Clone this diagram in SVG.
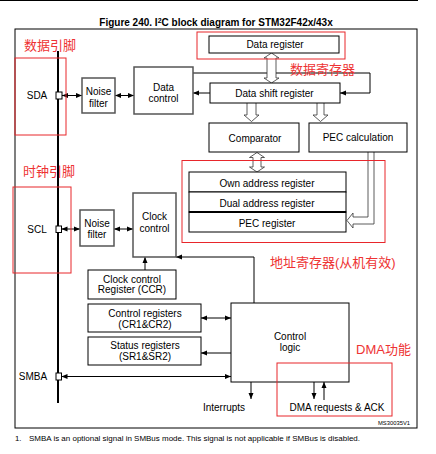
<svg xmlns="http://www.w3.org/2000/svg" width="436" height="454" viewBox="0 0 436 454">
<defs>
<style>
text{font-family:"Liberation Sans",Arial,sans-serif;font-size:10px;fill:#000;text-anchor:middle}
.box{fill:#fff;stroke:#000;stroke-width:1}
.gbox{fill:#fff;stroke:#555;stroke-width:1.5}
.red{fill:none;stroke:#e8262b;stroke-width:1}
.rt{font-family:"Liberation Sans","Noto Sans CJK SC",sans-serif;font-size:13px;fill:#ee3333;text-anchor:start}
.c{fill:none;stroke:#000;stroke-width:1}
.hol{fill:#fff;stroke:#333;stroke-width:0.8}
.sq{fill:#fff;stroke:#000;stroke-width:1}
.fn{font-size:7.8px;text-anchor:start}
.id{font-size:5.8px;text-anchor:start}
</style>
<marker id="ah" viewBox="0 0 6 6" refX="6" refY="3" markerWidth="6" markerHeight="6" markerUnits="userSpaceOnUse" orient="auto-start-reverse"><path d="M0,0.5 L6,3 L0,5.5 z" fill="#000"/></marker>
</defs>
<rect x="0" y="0" width="436" height="454" fill="#fff"/>
<line x1="0" y1="0.5" x2="418" y2="0.5" stroke="#000" stroke-width="1"/>
<text x="216" y="26" font-weight="bold">Figure 240. I<tspan font-size="7" dy="-3.5">2</tspan><tspan dy="3.5">C block diagram for STM32F42x/43x</tspan></text>
<rect x="15" y="29" width="402" height="399" fill="none" stroke="#000" stroke-width="1"/>
<line x1="58" y1="51" x2="58" y2="403" stroke="#000" stroke-width="2"/>

<g id="connectors">
<path class="c" d="M62,95.5 H82" marker-start="url(#ah)" marker-end="url(#ah)"/>
<path class="c" d="M115,95.5 H134" marker-start="url(#ah)" marker-end="url(#ah)"/>
<path class="c" d="M210,93 H193" marker-end="url(#ah)"/>
<path class="c" d="M193,73 H370 V93 H340" marker-end="url(#ah)"/>
<path class="c" d="M61.5,229 H80" marker-start="url(#ah)" marker-end="url(#ah)"/>
<path class="c" d="M114,229 H133" marker-start="url(#ah)" marker-end="url(#ah)"/>
<path class="c" d="M254,303 V257 H176" marker-end="url(#ah)"/>
<path class="c" d="M145,270 V257" marker-end="url(#ah)"/>
<path class="c" d="M201,318 H231" marker-start="url(#ah)" marker-end="url(#ah)"/>
<path class="c" d="M233,353 H201" marker-end="url(#ah)"/>
<path class="c" d="M61.5,376.5 H231" marker-start="url(#ah)" marker-end="url(#ah)"/>
<path class="c" d="M251,382 V399" marker-end="url(#ah)"/>
<path class="c" d="M314,382 V399" marker-end="url(#ah)"/>
<path class="c" d="M324,400 V382" marker-end="url(#ah)"/>
<polygon class="hol" points="271.5,53 279,58 276,58 276,78 279,78 271.5,83 264,78 267,78 267,58 264,58"/>
<path class="hol" d="M247,103 V115 H244 L251.5,121.5 L259,115 H256 V103"/>
<path class="hol" d="M317,103 V115 H313 L320.5,121.5 L328,115 H324 V103"/>
<polygon class="hol" points="257,152.5 264.5,157.5 261,157.5 261,167 264.5,167 257,172 249.5,167 253,167 253,157.5 249.5,157.5"/>
<path class="hol" d="M368,152 V217 H353 V213 L347,220.5 L353,228 V224 H374 V152"/>
</g>

<g id="sda">
<rect class="sq" x="56" y="92" width="6" height="7"/>
<text x="37" y="99">SDA</text>
</g>
<g id="scl">
<rect class="sq" x="56" y="226" width="5.5" height="6.5"/>
<text x="37" y="233">SCL</text>
</g>
<g id="smba">
<rect class="sq" x="56" y="373" width="5.5" height="7"/>
<text x="33" y="380">SMBA</text>
</g>
<g id="noise-filter-1">
<rect class="gbox" x="82" y="78" width="33" height="35"/>
<text x="98.5" y="94.5">Noise</text>
<text x="98.5" y="106.5">filter</text>
</g>
<g id="data-control">
<rect class="gbox" x="134" y="67" width="59" height="47"/>
<text x="163.5" y="90.5">Data</text>
<text x="163.5" y="102">control</text>
</g>
<g id="noise-filter-2">
<rect class="gbox" x="80" y="210" width="34" height="36"/>
<text x="97" y="226.5">Noise</text>
<text x="97" y="237.5">filter</text>
</g>
<g id="clock-control">
<rect class="gbox" x="133" y="193" width="43" height="64"/>
<text x="154.5" y="219.5">Clock</text>
<text x="154.5" y="231.5">control</text>
</g>
<g id="data-register">
<rect class="box" x="209" y="36" width="130" height="17"/>
<text x="275" y="48">Data register</text>
</g>
<g id="data-shift-register">
<rect class="box" x="210" y="83" width="130" height="20"/>
<text x="274.5" y="96.5">Data shift register</text>
</g>
<g id="comparator">
<rect class="box" x="209" y="123" width="90" height="29"/>
<text x="255" y="141.5">Comparator</text>
</g>
<g id="pec-calculation">
<rect class="box" x="309" y="123" width="98" height="29"/>
<text x="358" y="140.5">PEC calculation</text>
</g>
<g id="address-registers">
<rect class="box" x="189" y="172" width="157" height="20"/>
<text x="267" y="186.5">Own address register</text>
<rect class="box" x="189" y="192" width="157" height="20"/>
<text x="267" y="206.5">Dual address register</text>
<rect class="box" x="189" y="212" width="157" height="20"/>
<line x1="189" y1="212" x2="346" y2="212" stroke="#000" stroke-width="2"/>
<text x="267" y="226.5">PEC register</text>
</g>
<g id="ccr">
<rect class="box" x="88" y="270" width="88" height="29"/>
<text x="132" y="282.5">Clock control</text>
<text x="132" y="293">Register (CCR)</text>
</g>
<g id="control-registers">
<rect class="box" x="88" y="304" width="113" height="28"/>
<text x="145" y="316.5">Control registers</text>
<text x="145" y="327.5">(CR1&amp;CR2)</text>
</g>
<g id="status-registers">
<rect class="box" x="88" y="337" width="113" height="28"/>
<text x="145" y="348.5">Status registers</text>
<text x="145" y="359.5">(SR1&amp;SR2)</text>
</g>
<g id="control-logic">
<rect class="box" x="231" y="303" width="118" height="79"/>
<text x="290" y="339.5">Control</text>
<text x="290" y="350.5">logic</text>
</g>
<g id="interrupts">
<text x="224" y="410.5">Interrupts</text>
</g>
<g id="dma">
<text x="337" y="410.5">DMA requests &amp; ACK</text>
</g>

<g id="annotations">
<rect class="red" x="15" y="58" width="51" height="77"/>
<rect class="red" x="13" y="187" width="58" height="86"/>
<rect class="red" x="197" y="32" width="148" height="27"/>
<rect class="red" x="182" y="160.5" width="203" height="82"/>
<rect class="red" x="277" y="363" width="115" height="53"/>
<text class="rt" x="24" y="50">数据引脚</text>
<text class="rt" x="23" y="175.5">时钟引脚</text>
<text class="rt" x="290" y="74">数据寄存器</text>
<text class="rt" x="270" y="266.5">地址寄存器(从机有效)</text>
<text class="rt" x="356" y="353.5">DMA功能</text>
</g>

<text class="id" x="378" y="425" textLength="32" lengthAdjust="spacingAndGlyphs">MS30035V1</text>
<text class="fn" x="15" y="441">1.</text>
<text class="fn" x="29" y="441" textLength="331" lengthAdjust="spacingAndGlyphs">SMBA is an optional signal in SMBus mode. This signal is not applicable if SMBus is disabled.</text>
</svg>
